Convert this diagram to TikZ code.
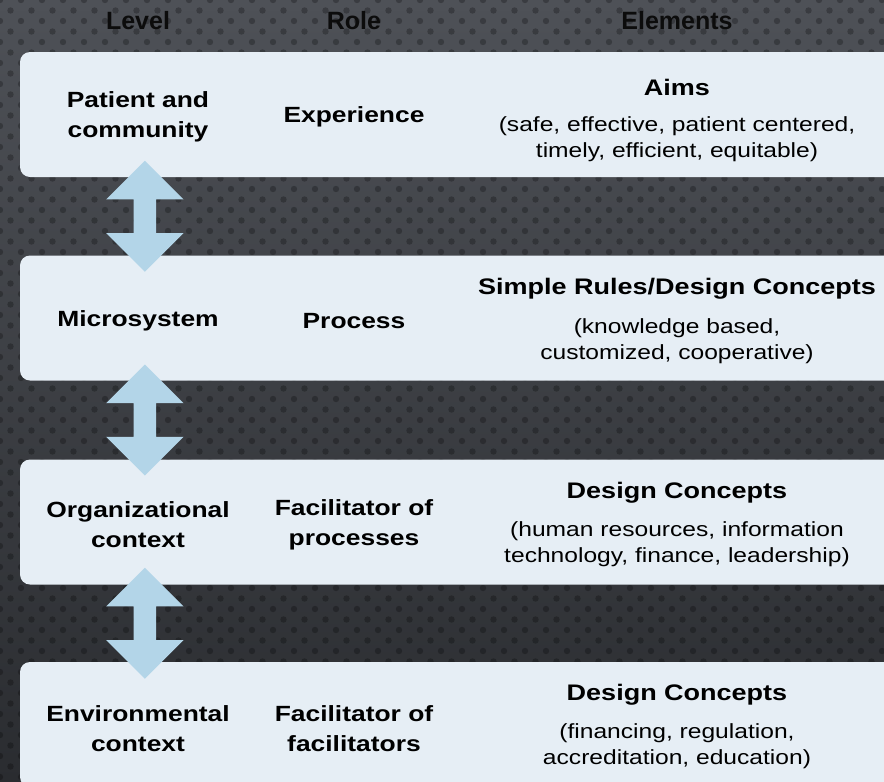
\documentclass[tikz,border=0pt]{standalone}
\usepackage{fontspec}
\setmainfont{Liberation Sans}
\newfontfamily\boxfont[FakeStretch=1.2]{Liberation Sans}
\usetikzlibrary{shapes.arrows,calc}

\definecolor{bgtop}{HTML}{4E5157}
\definecolor{bgbottom}{HTML}{2A2C30}
\definecolor{boxfill}{HTML}{E6EEF5}
\definecolor{arrowfill}{HTML}{B3D5E8}
\definecolor{headink}{HTML}{0C0C0C}

\begin{document}
\begin{tikzpicture}[x=1pt,y=-1pt]
    \tikzstyle{levelbox}=[rectangle,rounded corners=10pt,fill=boxfill,minimum width=884pt,minimum height=125pt,inner sep=0pt]
    \tikzstyle{linkarrow}=[double arrow,double arrow tip angle=90,double arrow head extend=27.5pt,fill=arrowfill,rotate=90,minimum height=111pt,inner xsep=0pt,inner ysep=11pt]
    \tikzstyle{colhead}=[text=headink,font=\bfseries\fontsize{25}{30}\selectfont]
    \tikzstyle{lvltext}=[align=center,font=\boxfont\bfseries\fontsize{22}{30}\selectfont]
    \tikzstyle{elemhead}=[font=\boxfont\bfseries\fontsize{22.5}{26}\selectfont]
    \tikzstyle{elemsub}=[align=center,font=\boxfont\fontsize{20.5}{26}\selectfont]

    % Background
    \useasboundingbox (0,0) rectangle (884,782);
    \fill[top color=bgtop,bottom color=bgbottom] (0,0) rectangle (884,782);
    \foreach \r in {0,...,75}
        \foreach \c in {0,...,42}
            \fill[black,opacity=0.25] ({\c*21+mod(\r,2)*10.5},{\r*10.5}) circle (3.2);

    % Column headings
    \node[colhead] (H-level) at (138,21) {Level};
    \node[colhead] (H-role) at (354,21) {Role};
    \node[colhead] (H-elem) at (677,21) {Elements};

    % Draw the level boxes
    \node[levelbox] (B-1) at (462,114.5) {};
    \node[levelbox] (B-2) at (462,318) {};
    \node[levelbox] (B-3) at (462,522) {};
    \node[levelbox] (B-4) at (462,724.5) {};

    % Arrows between neighbouring levels
    \foreach \upper/\lower in {1/2,2/3,3/4}
        \node[linkarrow] (A-\upper) at ($(B-\upper.south west)!0.5!(B-\lower.north west)+(125,0)$) {};

    % Level and role of each box
    \node[lvltext] (L-1) at (138,117) {Patient and\\community};
    \node[lvltext] (R-1) at (354,117) {Experience};
    \node[lvltext] (L-2) at (138,321) {Microsystem};
    \node[lvltext] (R-2) at (354,321) {Process};
    \node[lvltext] (L-3) at (138,525) {Organizational\\context};
    \node[lvltext] (R-3) at (354,525) {Facilitator of\\processes};
    \node[lvltext] (L-4) at (138,729) {Environmental\\context};
    \node[lvltext] (R-4) at (354,729) {Facilitator of\\facilitators};

    % Elements of each box
    \node[elemhead] (E-1) at (677,87) {Aims};
    \node[elemsub] (S-1) at (677,139) {(safe, effective, patient centered,\\timely, efficient, equitable)};
    \node[elemhead] (E-2) at (677,289) {Simple Rules/Design Concepts};
    \node[elemsub] (S-2) at (677,341) {(knowledge based,\\customized, cooperative)};
    \node[elemhead] (E-3) at (677,493) {Design Concepts};
    \node[elemsub] (S-3) at (677,544) {(human resources, information\\technology, finance, leadership)};
    \node[elemhead] (E-4) at (677,695) {Design Concepts};
    \node[elemsub] (S-4) at (677,746) {(financing, regulation,\\accreditation, education)};
\end{tikzpicture}
\end{document}
